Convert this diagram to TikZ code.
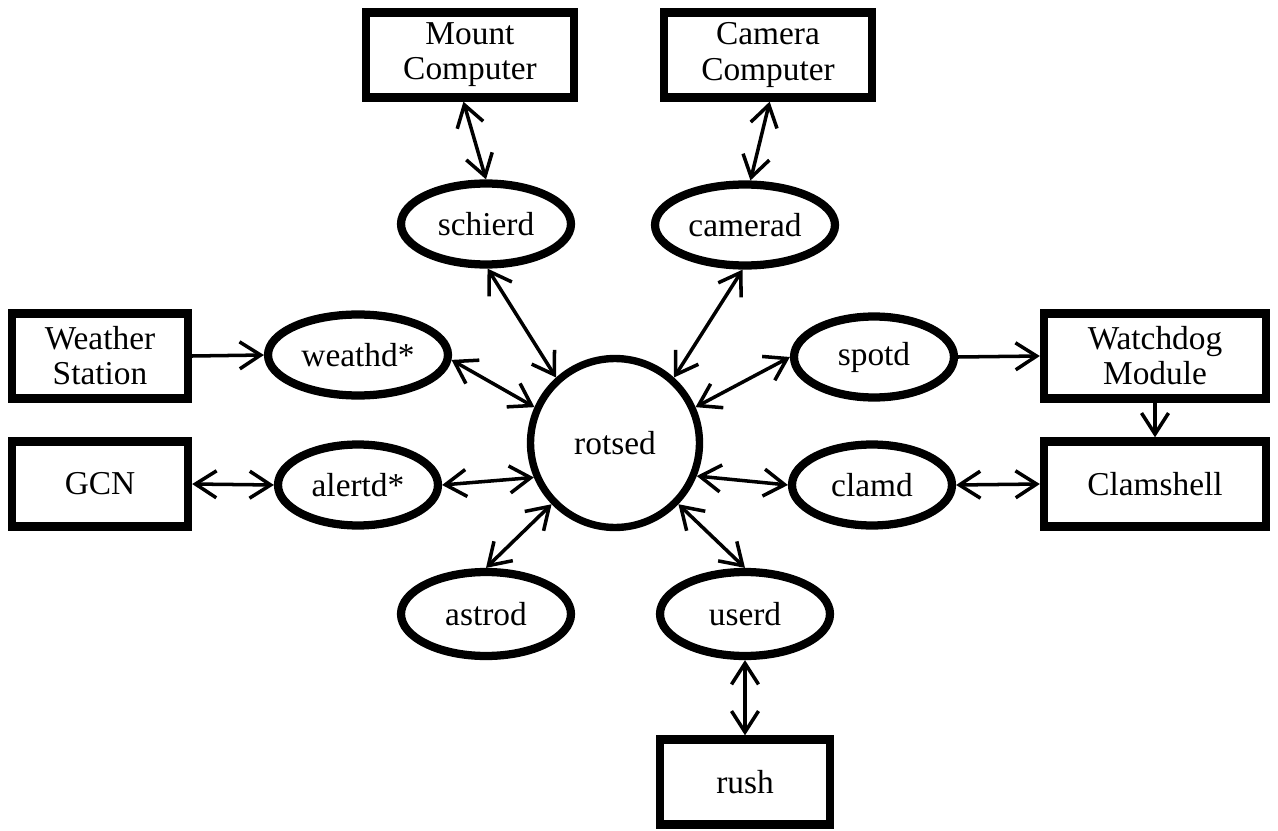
\documentclass[tikz,border=0pt]{standalone}
\usepackage{fontspec}
\setmainfont{Liberation Serif}
\usetikzlibrary{arrows.meta,shapes.geometric}
\begin{document}
\begin{tikzpicture}[x=0.02cm,y=-0.02cm,
    font=\fontsize{19}{20}\selectfont,
    >={Straight Barb[length=0.42cm,width=0.54cm]},
    box/.style={draw,line width=4.8pt,minimum width=3.52cm,minimum height=1.7cm,align=center,inner sep=0pt},
    daemon/.style={draw,ellipse,line width=4.7pt,minimum width=3.4cm,minimum height=1.62cm,inner sep=0pt},
    link/.style={line width=2pt}]
  \useasboundingbox (0,0) rectangle (1278,831);

  \node[box,minimum width=4.16cm] (mount)  at (470,55)   {Mount\\Computer};
  \node[box,minimum width=4.16cm] (camera) at (768,55)   {Camera\\Computer};
  \node[box] (weather)   at (100,356) {Weather\\Station};
  \node[box] (gcn)       at (100,484) {GCN};
  \node[box,minimum width=4.44cm] (watchdog)  at (1155,356) {Watchdog\\Module};
  \node[box,minimum width=4.44cm] (clamshell) at (1155,484) {Clamshell};
  \node[box,minimum width=3.4cm] (rush) at (745,782) {rush};

  \node[draw,circle,line width=4.2pt,minimum size=3.38cm,inner sep=0pt] (rotsed) at (615,443) {rotsed};

  \node[daemon] (schierd) at (486,224) {schierd};
  \node[daemon,minimum width=3.6cm] (camerad) at (745,225) {camerad};
  \node[daemon,minimum width=3.6cm] (weathd)  at (358,355) {weathd*};
  \node[daemon,minimum width=3.2cm] (alertd)  at (358,485) {alertd*};
  \node[daemon,minimum width=3.2cm] (spotd)   at (874,357) {spotd};
  \node[daemon,minimum width=3.2cm] (clamd)   at (872,485) {clamd};
  \node[daemon,minimum height=1.68cm] (astrod) at (486,614) {astrod};
  \node[daemon,minimum height=1.68cm] (userd)  at (745,614) {userd};

  \draw[link,<->] (mount.-98) -- (schierd.90);
  \draw[link,<->] (camera.-88) -- (camerad.83);
  \draw[link,<->] (schierd.-88) -- (rotsed.132);
  \draw[link,<->] (camerad.-93) -- (rotsed.48);
  \draw[link,<->] (weathd.-3) -- (rotsed.156);
  \draw[link,<->] (alertd.0) -- (rotsed.-157);
  \draw[link,<->] (spotd.180) -- (rotsed.24);
  \draw[link,<->] (clamd.180) -- (rotsed.-22);
  \draw[link,<->] (astrod.90) -- (rotsed.-136);
  \draw[link,<->] (userd.90) -- (rotsed.-44);
  \draw[link,->] (weather.east) -- (weathd.west);
  \draw[link,<->] (gcn.east) -- (alertd.west);
  \draw[link,->] (spotd.east) -- (watchdog.west);
  \draw[link,<->] (clamd.east) -- (clamshell.west);
  \draw[link,->] (watchdog.south) -- (clamshell.north);
  \draw[link,<->] (userd.south) -- (rush.north);
\end{tikzpicture}
\end{document}
